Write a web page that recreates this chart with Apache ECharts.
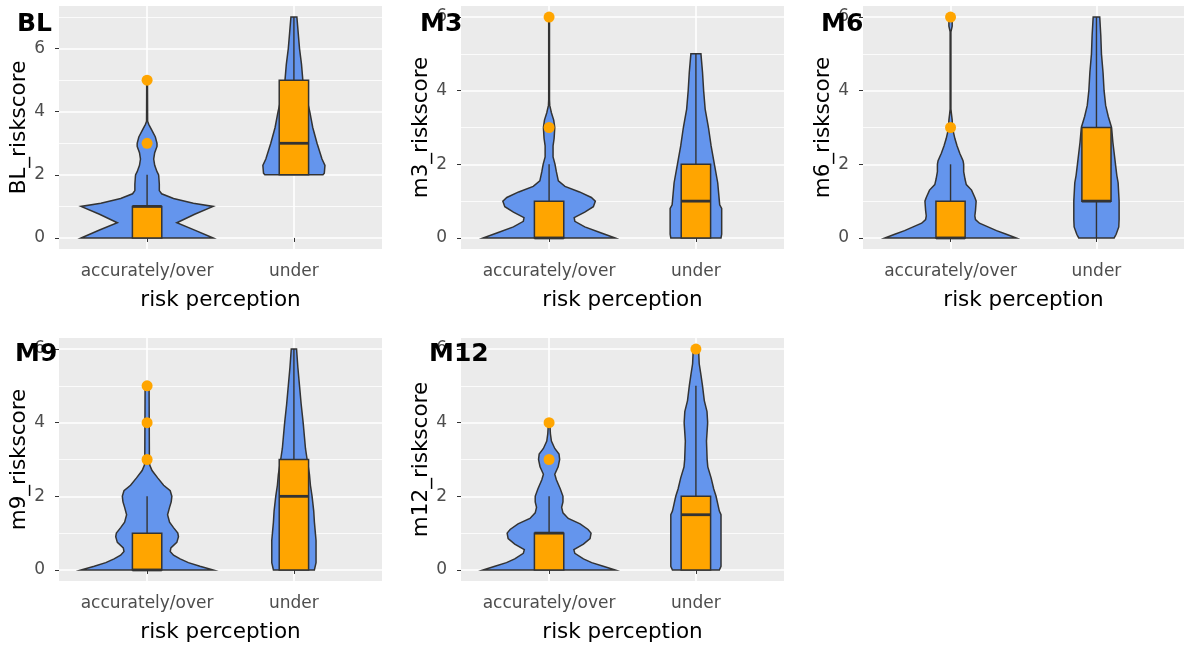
<!DOCTYPE html>
<html><head><meta charset="utf-8">
<script src="https://cdn.jsdelivr.net/npm/echarts@6/dist/echarts.min.js"></script>
<style>html,body{margin:0;padding:0;background:#fff}#c{width:1184px;height:652px}</style>
</head><body><div id="c"></div>
<script>
// ---------------- data ----------------
const categories = ['accurately/over', 'under'];
const panelNames = ['BL', 'M3', 'M6', 'M9', 'M12'];
const yTitles = ['BL_riskscore', 'm3_riskscore', 'm6_riskscore', 'm9_riskscore', 'm12_riskscore'];
const xTitle = 'risk perception';
const yDataMax = [7, 6, 6, 6, 6];
const majorTicks = [0, 2, 4, 6];
const minorTicksBL = [1, 3, 5, 7];
const minorTicks = [1, 3, 5];

// violin profiles: [riskscore, relative half-width (1 = widest violin of the panel)]
const violinBL_acc = [[0,1.0],[0.25,0.72],[0.48,0.45],[0.75,0.72],[1.0,1.0],[1.1,0.7],[1.25,0.4],[1.4,0.22],[1.5,0.185],[1.7,0.185],[1.85,0.18],[2.0,0.175],[2.1,0.15],[2.3,0.115],[2.5,0.1],[2.7,0.115],[2.9,0.15],[3.0,0.15],[3.2,0.125],[3.4,0.075],[3.6,0.025],[3.7,0.008],[4.8,0.006],[5.0,0.006]];
const violinBL_und = [[2.0,0.44],[2.05,0.46],[2.3,0.47],[2.5,0.425],[3.0,0.35],[3.5,0.285],[4.0,0.24],[4.5,0.185],[5.0,0.135],[5.5,0.115],[6.0,0.085],[6.5,0.065],[7.0,0.045]];
const violinM3_acc = [[0,1.0],[0.15,0.77],[0.3,0.54],[0.45,0.39],[0.55,0.38],[0.7,0.54],[0.85,0.67],[1.0,0.70],[1.1,0.64],[1.25,0.46],[1.4,0.24],[1.55,0.14],[1.8,0.11],[2.0,0.09],[2.2,0.06],[2.5,0.06],[2.7,0.076],[3.0,0.086],[3.2,0.07],[3.4,0.035],[3.6,0.01],[3.75,0.006],[5.9,0.006],[6.0,0.005]];
const violinM3_und = [[0,0.38],[0.1,0.39],[0.8,0.39],[0.9,0.36],[1.0,0.355],[1.5,0.33],[2.0,0.28],[2.5,0.23],[3.0,0.19],[3.5,0.14],[4.0,0.117],[4.5,0.10],[5.0,0.076]];
const violinM6_acc = [[0,1.0],[0.1,0.85],[0.2,0.70],[0.3,0.57],[0.4,0.44],[0.5,0.38],[0.6,0.37],[0.75,0.38],[1.0,0.39],[1.1,0.37],[1.3,0.32],[1.45,0.24],[1.6,0.22],[1.8,0.2],[2.0,0.2],[2.1,0.19],[2.3,0.14],[2.5,0.10],[2.7,0.066],[2.9,0.04],[3.0,0.03],[3.2,0.025],[3.35,0.015],[3.5,0.006],[5.6,0.006],[5.75,0.025],[6.0,0.025]];
const violinM6_und = [[0,0.27],[0.1,0.30],[0.3,0.34],[0.5,0.345],[1.0,0.345],[1.5,0.33],[1.7,0.31],[2.0,0.29],[2.3,0.27],[2.6,0.25],[3.0,0.23],[3.3,0.18],[3.6,0.14],[4.0,0.116],[4.5,0.10],[5.0,0.076],[5.5,0.066],[6.0,0.05]];
const violinM9_acc = [[0,1.0],[0.1,0.8],[0.2,0.625],[0.3,0.5],[0.4,0.4],[0.5,0.35],[0.6,0.36],[0.75,0.45],[0.9,0.475],[1.0,0.465],[1.15,0.40],[1.3,0.34],[1.5,0.31],[1.7,0.34],[1.85,0.365],[2.0,0.375],[2.15,0.35],[2.3,0.25],[2.5,0.16],[2.7,0.075],[2.85,0.04],[3.0,0.035],[5.0,0.03]];
const violinM9_und = [[0,0.31],[0.2,0.335],[0.8,0.335],[1.0,0.325],[1.3,0.31],[1.6,0.30],[2.0,0.275],[2.3,0.25],[2.6,0.235],[3.0,0.20],[3.3,0.175],[3.6,0.16],[4.0,0.14],[4.5,0.11],[5.0,0.085],[5.5,0.06],[6.0,0.04]];
const violinM12_acc = [[0,1.0],[0.1,0.82],[0.2,0.645],[0.3,0.52],[0.45,0.39],[0.55,0.375],[0.7,0.52],[0.85,0.62],[1.0,0.635],[1.1,0.59],[1.25,0.47],[1.4,0.29],[1.55,0.21],[1.7,0.19],[1.85,0.21],[2.0,0.21],[2.2,0.17],[2.45,0.11],[2.6,0.086],[2.8,0.137],[3.0,0.16],[3.15,0.15],[3.3,0.086],[3.5,0.035],[3.7,0.02],[4.0,0.01]];
const violinM12_und = [[0,0.355],[0.1,0.38],[1.5,0.38],[1.6,0.355],[1.8,0.33],[2.0,0.305],[2.2,0.27],[2.5,0.23],[2.8,0.18],[3.0,0.17],[3.5,0.16],[4.0,0.178],[4.3,0.168],[4.6,0.127],[5.0,0.10],[5.3,0.076],[5.6,0.05],[6.0,0.04]];

// box statistics per group: [lower whisker, Q1, median, Q3, upper whisker]
const boxBL  = [[0,0,1,1,2],[2,2,3,5,7]];
const boxM3  = [[0,0,0,1,2],[0,0,1,2,5]];
const boxM6  = [[0,0,0,1,2],[0,1,1,3,6]];
const boxM9  = [[0,0,0,1,2],[0,0,2,3,6]];
const boxM12 = [[0,0,1,1,2],[0,0,1.5,2,5]];

// outliers: [group (1 = accurately/over, 2 = under), riskscore]
const outBL  = [[1,3],[1,5]];
const outM3  = [[1,3],[1,6]];
const outM6  = [[1,3],[1,6]];
const outM9  = [[1,3],[1,4],[1,5]];
const outM12 = [[1,3],[1,4],[2,6]];

const violins = [[violinBL_acc, violinBL_und],[violinM3_acc, violinM3_und],[violinM6_acc, violinM6_und],[violinM9_acc, violinM9_und],[violinM12_acc, violinM12_und]];
const boxes = [boxBL, boxM3, boxM6, boxM9, boxM12];
const outliers = [outBL, outM3, outM6, outM9, outM12];

// ---------------- style / layout ----------------
const FONT = 'DejaVu Sans';
const VIOLIN_W = 0.45, BOX_W = 0.1;
const grids = [
  {left:59, top:6, width:323, height:243},
  {left:461, top:6, width:323, height:243},
  {left:863, top:6, width:323, height:243},
  {left:59, top:338, width:323, height:243},
  {left:461, top:338, width:323, height:243}
];
const labelPos = [[17,24],[420,24],[821,24],[15,354],[429,354]];

function violinRender(profiles){
  return function(params, api){
    const g = api.value(0);
    const prof = profiles[params.dataIndex];
    const right = prof.map(p => api.coord([g + p[1]*VIOLIN_W, p[0]]));
    const left = prof.slice().reverse().map(p => api.coord([g - p[1]*VIOLIN_W, p[0]]));
    return {type:'polygon', shape:{points: right.concat(left)},
      style:{fill:'#6495ED', stroke:'#333333', lineWidth:1.5}};
  };
}
function boxRender(params, api){
  const g = api.value(0), lw = api.value(1), q1 = api.value(2), md = api.value(3), q3 = api.value(4), uw = api.value(5);
  const ch = [];
  const ls = {stroke:'#333333', lineWidth:1.4};
  if (uw > q3){ const a = api.coord([g,q3]), b = api.coord([g,uw]); ch.push({type:'line', shape:{x1:a[0],y1:a[1],x2:b[0],y2:b[1]}, style:ls}); }
  if (lw < q1){ const a = api.coord([g,lw]), b = api.coord([g,q1]); ch.push({type:'line', shape:{x1:a[0],y1:a[1],x2:b[0],y2:b[1]}, style:ls}); }
  const tl = api.coord([g-BOX_W, q3]), br = api.coord([g+BOX_W, q1]);
  ch.push({type:'rect', shape:{x:tl[0], y:tl[1], width:br[0]-tl[0], height:br[1]-tl[1]}, style:{fill:'#FFA500', stroke:'#333333', lineWidth:1.5}});
  const m1 = api.coord([g-BOX_W, md]), m2 = api.coord([g+BOX_W, md]);
  ch.push({type:'line', shape:{x1:m1[0],y1:m1[1],x2:m2[0],y2:m2[1]}, style:{stroke:'#333333', lineWidth:2.8}});
  return {type:'group', children:ch};
}

const option = {animation:false, backgroundColor:'#ffffff', grid:[], xAxis:[], yAxis:[], series:[], graphic:[]};
panelNames.forEach((name, p) => {
  option.grid.push(Object.assign({show:true, backgroundColor:'#EBEBEB', borderWidth:0, containLabel:false}, grids[p]));
  option.xAxis.push({gridIndex:p, type:'value', min:0.4, max:2.6,
    name:xTitle, nameLocation:'middle', nameGap:40,
    nameTextStyle:{fontFamily:FONT, fontSize:21.5, color:'#000'},
    axisLine:{show:false},
    axisTick:{show:true, length:4, customValues:[1,2], lineStyle:{color:'#333333', width:1}},
    axisLabel:{customValues:[1,2], formatter:v => categories[Math.round(v)-1], fontFamily:FONT, fontSize:17, color:'#4D4D4D', margin:14},
    splitLine:{show:true, lineStyle:{color:'#ffffff', width:1.6}}});
  const yMin = -0.05*yDataMax[p], yMax = 1.05*yDataMax[p];
  option.yAxis.push({gridIndex:p, type:'value', min:yMin, max:yMax,
    name:yTitles[p], nameLocation:'middle', nameGap:29,
    nameTextStyle:{fontFamily:FONT, fontSize:21.5, color:'#000'},
    axisLine:{show:false},
    axisTick:{show:true, length:4, customValues:majorTicks, lineStyle:{color:'#333333', width:1}},
    axisLabel:{customValues:majorTicks, fontFamily:FONT, fontSize:17, color:'#4D4D4D', margin:14},
    splitLine:{show:true, lineStyle:{color:'#ffffff', width:1.6}}});
  option.yAxis.push({gridIndex:p, type:'value', min:yMin, max:yMax, position:'left',
    axisLine:{show:false}, axisTick:{show:false, customValues:(p===0?minorTicksBL:minorTicks)},
    axisLabel:{show:false, customValues:(p===0?minorTicksBL:minorTicks)},
    splitLine:{show:true, lineStyle:{color:'#ffffff', width:0.8}}});
  const profs = violins[p];
  option.series.push({type:'custom', xAxisIndex:p, yAxisIndex:2*p, z:2,
    renderItem: violinRender(profs),
    encode:{x:0, y:[1,2]},
    data: profs.map((pr, i) => [i+1, pr[0][0], pr[pr.length-1][0]])});
  option.series.push({type:'custom', xAxisIndex:p, yAxisIndex:2*p, z:3,
    renderItem: boxRender, encode:{x:0, y:[1,2,3,4,5]},
    data: boxes[p].map((b, i) => [i+1].concat(b))});
  option.series.push({type:'scatter', xAxisIndex:p, yAxisIndex:2*p, z:4,
    symbol:'circle', symbolSize:11, itemStyle:{color:'#FFA500', opacity:1},
    data: outliers[p]});
  option.graphic.push({type:'text', x:labelPos[p][0], y:labelPos[p][1], z:100,
    style:{text:name, font:'bold 25px "DejaVu Sans"', fill:'#000000', align:'left', verticalAlign:'middle'}});
});

const chart = echarts.init(document.getElementById('c'), null, {renderer:'canvas'});
chart.setOption(option);
</script></body></html>
